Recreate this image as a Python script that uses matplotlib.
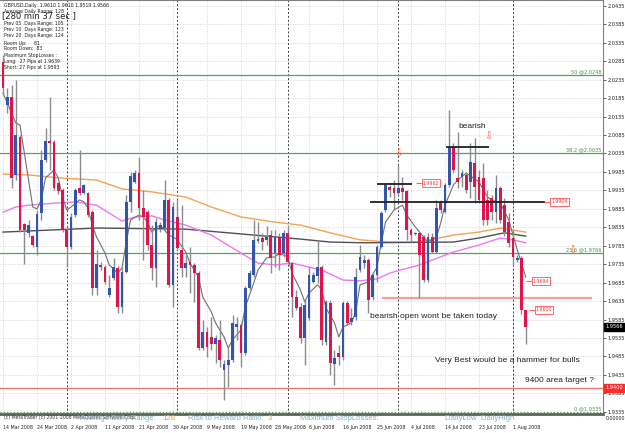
import matplotlib.pyplot as plt
import numpy as np

# GBPUSD daily candles (bar 0 = 14 Mar 2008, Sunday bars included)
opens = [2.0283, 2.0166, 2.0188, 1.9977, 2.0080, 1.9844, 1.9820, 1.9811, 1.9782, 1.9874,
         2.0017, 2.0069, 2.0066, 1.9955, 1.9936, 1.9828, 1.9782, 1.9868, 1.9942, 1.9928,
         1.9928, 1.9876, 1.9671, 1.9733, 1.9727, 1.9652, 1.9698, 1.9725, 1.9619, 1.9714,
         1.9904, 1.9958, 1.9982, 1.9887, 1.9876, 1.9787, 1.9725, 1.9830, 1.9833, 1.9909,
         1.9679, 1.9863, 1.9774, 1.9725, 1.9741, 1.9733, 1.9711, 1.9508, 1.9551, 1.9538,
         1.9519, 1.9530, 1.9448, 1.9462, 1.9475, 1.9565, 1.9570, 1.9494, 1.9671, 1.9706,
         1.9798, 1.9806, 1.9801, 1.9814, 1.9765, 1.9809, 1.9765, 1.9820, 1.9738, 1.9646,
         1.9619, 1.9535, 1.9589, 1.9687, 1.9703, 1.9727, 1.9524, 1.9630, 1.9465, 1.9494,
         1.9484, 1.9630, 1.9578, 1.9592, 1.9719, 1.9738, 1.9747, 1.9646, 1.9706, 1.9782,
         1.9882, 1.9944, 1.9942, 1.9928, 1.9942, 1.9933, 1.9828, 1.9820, 1.9820, 1.9809,
         1.9692, 1.9809, 1.9768, 1.9904, 1.9876, 1.9950, 2.0053, 1.9969, 1.9971, 1.9977,
         1.9958, 2.0009, 1.9971, 1.9969, 1.9909, 1.9914, 1.9876, 1.9942, 1.9895, 1.9849,
         1.9806, 1.9747, 1.9752, 1.9610]
highs = [2.0302, 2.0213, 2.0221, 2.0234, 2.0085, 1.9847, 1.9855, 1.9814, 1.9882, 2.0045,
         2.0104, 2.0188, 2.0072, 1.9958, 1.9942, 1.9833, 1.9874, 1.9942, 2.0045, 1.9952,
         1.9931, 1.9882, 1.9774, 1.9741, 1.9733, 1.9706, 1.9752, 1.9730, 1.9727, 1.9923,
         1.9985, 1.9990, 2.0026, 1.9936, 1.9882, 1.9841, 1.9860, 1.9849, 1.9963, 1.9914,
         1.9904, 1.9909, 1.9895, 1.9760, 1.9782, 1.9738, 1.9717, 1.9584, 1.9565, 1.9592,
         1.9543, 1.9584, 1.9475, 1.9511, 1.9597, 1.9592, 1.9576, 1.9676, 1.9719, 1.9855,
         1.9849, 1.9820, 1.9839, 1.9828, 1.9828, 1.9820, 1.9828, 1.9841, 1.9741, 1.9665,
         1.9630, 1.9638, 1.9727, 1.9714, 1.9801, 1.9733, 1.9638, 1.9638, 1.9503, 1.9516,
         1.9635, 1.9635, 1.9616, 1.9725, 1.9787, 1.9760, 1.9752, 1.9714, 1.9787, 1.9879,
         1.9955, 1.9950, 1.9963, 2.0004, 1.9971, 1.9936, 1.9833, 1.9822, 1.9822, 1.9814,
         1.9820, 1.9820, 1.9909, 1.9909, 1.9955, 2.0153, 2.0064, 2.0093, 1.9990, 1.9985,
         2.0064, 2.0077, 1.9990, 2.0009, 1.9936, 1.9923, 1.9977, 1.9947, 1.9914, 1.9874,
         1.9828, 1.9760, 1.9757, 1.9610]
lows = [2.0194, 2.0145, 1.9942, 1.9963, 1.9822, 1.9736, 1.9809, 1.9782, 1.9760, 1.9855,
        2.0012, 1.9990, 1.9936, 1.9925, 1.9822, 1.9727, 1.9776, 1.9863, 1.9923, 1.9925,
        1.9863, 1.9652, 1.9652, 1.9719, 1.9681, 1.9646, 1.9692, 1.9603, 1.9603, 1.9711,
        1.9876, 1.9955, 1.9855, 1.9747, 1.9774, 1.9692, 1.9673, 1.9822, 1.9828, 1.9673,
        1.9619, 1.9774, 1.9700, 1.9700, 1.9657, 1.9633, 1.9503, 1.9503, 1.9484, 1.9503,
        1.9467, 1.9456, 1.9367, 1.9402, 1.9470, 1.9530, 1.9456, 1.9489, 1.9665, 1.9700,
        1.9793, 1.9774, 1.9787, 1.9711, 1.9727, 1.9719, 1.9755, 1.9738, 1.9592, 1.9611,
        1.9521, 1.9462, 1.9584, 1.9684, 1.9684, 1.9516, 1.9516, 1.9435, 1.9408, 1.9462,
        1.9475, 1.9570, 1.9570, 1.9584, 1.9714, 1.9725, 1.9603, 1.9638, 1.9687, 1.9779,
        1.9876, 1.9917, 1.9882, 1.9923, 1.9909, 1.9801, 1.9795, 1.9814, 1.9643, 1.9687,
        1.9687, 1.9765, 1.9765, 1.9874, 1.9874, 1.9944, 1.9982, 1.9942, 1.9944, 1.9928,
        1.9914, 1.9901, 1.9901, 1.9841, 1.9841, 1.9855, 1.9847, 1.9847, 1.9811, 1.9782,
        1.9733, 1.9741, 1.9600, 1.9519]
closes = [2.0213, 2.0188, 1.9969, 2.0085, 1.9828, 1.9828, 1.9841, 1.9787, 1.9871, 2.0017,
          2.0069, 2.0064, 1.9942, 1.9933, 1.9828, 1.9782, 1.9863, 1.9936, 1.9928, 1.9950,
          1.9868, 1.9671, 1.9736, 1.9727, 1.9687, 1.9671, 1.9727, 1.9619, 1.9714, 1.9904,
          1.9974, 1.9982, 1.9887, 1.9863, 1.9787, 1.9725, 1.9849, 1.9841, 1.9909, 1.9679,
          1.9890, 1.9779, 1.9725, 1.9738, 1.9733, 1.9711, 1.9508, 1.9551, 1.9511, 1.9519,
          1.9535, 1.9475, 1.9465, 1.9475, 1.9576, 1.9573, 1.9494, 1.9671, 1.9711, 1.9801,
          1.9803, 1.9795, 1.9809, 1.9752, 1.9809, 1.9760, 1.9820, 1.9741, 1.9646, 1.9616,
          1.9535, 1.9625, 1.9706, 1.9706, 1.9727, 1.9530, 1.9633, 1.9467, 1.9481, 1.9484,
          1.9630, 1.9576, 1.9589, 1.9700, 1.9755, 1.9747, 1.9638, 1.9706, 1.9782, 1.9874,
          1.9950, 1.9936, 1.9928, 1.9942, 1.9931, 1.9828, 1.9814, 1.9817, 1.9760, 1.9692,
          1.9809, 1.9768, 1.9887, 1.9882, 1.9950, 2.0053, 1.9990, 1.9958, 1.9982, 1.9936,
          2.0012, 1.9944, 1.9909, 1.9855, 1.9855, 1.9876, 1.9942, 1.9855, 1.9822, 1.9793,
          1.9755, 1.9752, 1.9611, 1.9566]

# moving averages as (bar, price)
ma_orange = [(0, 1.9979), (6, 1.9977), (13, 1.9969), (22, 1.9963), (28, 1.9939), (35, 1.9931),
             (43, 1.9917), (49, 1.9890), (56, 1.9863), (64, 1.9849), (70, 1.9841), (77, 1.9820),
             (84, 1.9801), (91, 1.9795), (98, 1.9795), (106, 1.9814), (112, 1.9822), (117, 1.9833),
             (123, 1.9822)]
ma_black = [(0, 1.9822), (22, 1.9833), (43, 1.9830), (53, 1.9820), (64, 1.9809), (70, 1.9803),
            (77, 1.9795), (85, 1.9793), (106, 1.9795), (112, 1.9806), (118, 1.9820), (123, 1.9811)]
ma_magenta = [(0, 1.9876), (3, 1.9890), (6, 1.9895), (13, 1.9901), (17, 1.9904), (22, 1.9895),
              (28, 1.9852), (31, 1.9863), (35, 1.9866), (38, 1.9855), (43, 1.9841), (49, 1.9814),
              (56, 1.9765), (60, 1.9738), (64, 1.9733), (68, 1.9738), (75, 1.9719), (80, 1.9692),
              (84, 1.9690), (88, 1.9695), (91, 1.9711), (98, 1.9733), (106, 1.9768), (112, 1.9787),
              (117, 1.9806), (120, 1.9801), (123, 1.9793)]
ma_gray = [(0, 2.0199), (3, 2.0118), (4, 2.0112), (7, 1.9890), (8, 1.9885), (9, 1.9909), (10, 1.9969),
           (12, 1.9990), (13, 1.9969), (14, 1.9917), (15, 1.9882), (16, 1.9890), (18, 1.9909),
           (19, 1.9904), (20, 1.9887), (21, 1.9841), (22, 1.9809), (24, 1.9765), (25, 1.9733),
           (27, 1.9711), (28, 1.9725), (29, 1.9795), (30, 1.9855), (32, 1.9868), (33, 1.9863),
           (34, 1.9849), (35, 1.9822), (36, 1.9833), (37, 1.9841), (39, 1.9814), (40, 1.9809),
           (41, 1.9801), (43, 1.9768), (44, 1.9738), (46, 1.9700), (47, 1.9646), (49, 1.9606),
           (50, 1.9576), (52, 1.9538), (53, 1.9508), (54, 1.9530), (56, 1.9557), (57, 1.9619),
           (59, 1.9684), (60, 1.9719), (62, 1.9752), (64, 1.9755), (65, 1.9765), (67, 1.9755),
           (68, 1.9711), (70, 1.9665), (71, 1.9633), (72, 1.9657), (74, 1.9679), (75, 1.9665),
           (76, 1.9616), (78, 1.9576), (79, 1.9538), (80, 1.9565), (82, 1.9576), (83, 1.9606),
           (84, 1.9679), (86, 1.9687), (88, 1.9727), (89, 1.9793), (90, 1.9849), (92, 1.9882),
           (94, 1.9895), (95, 1.9868), (97, 1.9836), (99, 1.9809), (100, 1.9795), (102, 1.9809),
           (103, 1.9847), (104, 1.9895), (106, 1.9950), (107, 1.9963), (109, 1.9982), (112, 1.9958),
           (114, 1.9917), (115, 1.9909), (117, 1.9901), (119, 1.9855), (121, 1.9774), (123, 1.9700)]

date_bars = [0, 8, 16, 24, 32, 40, 48, 56, 64, 72, 80, 88, 96, 104, 112, 120]
date_labels = ["14 Mar 2008", "24 Mar 2008", "2 Apr 2008", "11 Apr 2008", "21 Apr 2008",
               "30 Apr 2008", "9 May 2008", "19 May 2008", "28 May 2008", "6 Jun 2008",
               "16 Jun 2008", "25 Jun 2008", "4 Jul 2008", "14 Jul 2008", "23 Jul 2008", "1 Aug 2008"]
month_starts = [15, 41, 67, 93, 120]
price_ticks = [round(1.9335 + 0.005 * k, 4) for k in range(23)]

fib_names = ["50", "38.2", "23.6", "0"]
fib_levels = [2.0248, 2.0035, 1.9766, 1.9335]

# hand drawn trend lines: (price, from bar, to bar)
black_lines = [(1.9952, 88.0, 96.3), (1.9904, 86.3, 127.5), (2.0052, 104.3, 114.3)]
price_boxes = [("1.9962", 100.7, 1.9955), ("1.9904", 131.0, 1.9904),
               ("1.9694", 126.6, 1.9689), ("1.9610", 127.3, 1.9611)]
arrows = [(93.0, 2.0036), (114.1, 2.0082), (133.9, 1.9772)]

W, H = 625, 433
fig = plt.figure(figsize=(W / 100, H / 100), dpi=100)
fig.patch.set_facecolor("white")
ax = fig.add_axes([0, 19 / H, 603 / W, 414 / H])

def at(x, y):  # pixel position -> figure fraction
    return x / W, 1 - y / H

ax.set_xlim(-0.71, 141.18)
ax.set_ylim(1.9329, 2.0451)

# grid
for p in price_ticks:
    ax.axhline(p, color="#c8c8c8", lw=0.6, ls=(0, (1, 2)), zorder=0)
for b in date_bars:
    ax.axvline(b, color="#c8c8c8", lw=0.6, ls=(0, (1, 2)), zorder=0)
for b in month_starts:
    ax.axvline(b, color="#404040", lw=0.7, ls=(0, (2, 2)), zorder=0.5)

# fibo levels
for name, lev in zip(fib_names, fib_levels):
    ax.axhline(lev, color="#5aa05a", lw=0.9, ls=":" if name == "0" else "-", zorder=1)
    ax.text(140.9, lev + 0.0002, f"{name} @{lev:.4f}", ha="right", va="bottom",
            fontsize=3.6, color="#4a904a", zorder=5)

ax.axhline(1.9400, color="#f07878", lw=1.0, zorder=1)
ax.hlines(1.9643, 89.2, 138.6, color="#f4a0a0", lw=1.6, zorder=1)

# moving averages
for pts, col, lw in [(ma_orange, "#f5a350", 1.0), (ma_black, "#505050", 1.0),
                     (ma_magenta, "#ee78ee", 1.0), (ma_gray, "#707070", 0.8)]:
    xs, ys = zip(*pts)
    ax.plot(xs, ys, color=col, lw=lw, zorder=2)

# candles
bars = np.arange(len(opens))
o, h, l, c = map(np.array, (opens, highs, lows, closes))
up = c >= o
ax.vlines(bars, l, h, color="#8c8c8c", lw=1.0, zorder=3)
body_lo = np.minimum(o, c)
body_h = np.maximum(np.abs(c - o), 0.00025)
ax.bar(bars[up], body_h[up], bottom=body_lo[up], width=0.65, color="#3355aa", zorder=4)
ax.bar(bars[~up], body_h[~up], bottom=body_lo[~up], width=0.65, color="#e0144c", zorder=4)

for p, x0, x1 in black_lines:
    ax.hlines(p, x0, x1, color="#202020", lw=1.3, zorder=5)

for txt, bx, p in price_boxes:
    ax.hlines(p, bx - 3.6, bx - 2.2, color="#ff6060", lw=0.8, zorder=5)
    ax.text(bx, p, txt, ha="center", va="center", fontsize=3.4, color="#ff3030", zorder=6,
            bbox=dict(boxstyle="square,pad=0.25", fc="white", ec="#ff5050", lw=0.6))

for bx, p in arrows:
    ax.text(bx, p, "\u21e9", ha="center", va="center", fontsize=7, color="#ff5a3c", zorder=6)

# axes frame and scales
ax.spines["left"].set_visible(False)
ax.spines["right"].set_color("#808080")
ax.spines["top"].set_color("#808080")
ax.spines["bottom"].set_color("#606060")
ax.spines["bottom"].set_linewidth(2)
ax.yaxis.tick_right()
ax.set_yticks(price_ticks)
ax.set_yticklabels([f"{p:.4f}" for p in price_ticks])
ax.tick_params(axis="y", labelsize=3.6, length=2, width=0.5, pad=1.5, colors="#202020")
ax.set_xticks(date_bars)
ax.set_xticklabels(date_labels, ha="left")
ax.tick_params(axis="x", labelsize=3.4, length=0, pad=8, colors="#202020")

ax.annotate("1.9566", xy=(1.0, 1.9566), xycoords=("axes fraction", "data"), xytext=(1.5, 0),
            textcoords="offset points", ha="left", va="center", fontsize=3.6, color="white",
            bbox=dict(boxstyle="square,pad=0.3", fc="black", ec="black"), annotation_clip=False)
ax.annotate("1.9400", xy=(1.0, 1.9400), xycoords=("axes fraction", "data"), xytext=(1.5, 0),
            textcoords="offset points", ha="left", va="center", fontsize=3.6, color="white",
            bbox=dict(boxstyle="square,pad=0.3", fc="#ff2a2a", ec="#ff2a2a"), annotation_clip=False)

# info block top left
info = [(5, "GBPUSD,Daily  1.9610 1.9610 1.9519 1.9566"),
        (11, "Average Daily Range: 128"),
        (24, "Prev 05  Days Range: 105"),
        (30, "Prev 10  Days Range: 123"),
        (36, "Prev 20  Days Range: 124"),
        (43, "Room Up:     81"),
        (49, "Room Down:  83"),
        (55, "Maximum StopLosses :"),
        (62, "Long:  27 Pips at 1.9639"),
        (68, "Short: 27 Pips at 1.9593")]
for y, s in info:
    fig.text(*at(4, y), s, fontsize=3.3, color="#202020", va="center")
fig.text(*at(2, 16), "[280 min 37 sec ]", fontsize=6, color="#202020", va="center")

# notes
note = dict(fontsize=6, color="#202020", va="center", family="Liberation Sans")
fig.text(*at(458, 126), "bearish", **note)
fig.text(*at(370, 316), "bearish open wont be taken today", **note)
fig.text(*at(435, 360), "Very Best would be a hammer for bulls", **note)
fig.text(*at(525, 381), "9400 area target ?", **note)

# bottom info row
fig.text(*at(4, 418), "(c) MetaTrader (c) 2001-2008 MetaQuotes Software Corp.", fontsize=3.3,
         color="#303030", va="center")
row = dict(fontsize=5.6, va="center", family="Liberation Sans")
fig.text(*at(156, 419), "Average Daily Range:", ha="right", color="#86b4c6", **row)
fig.text(*at(162, 419), "128", color="#f5a623", **row)
fig.text(*at(188, 419), "Risk to Reward Ratio:", color="#86b4c6", **row)
fig.text(*at(268, 419), "3", color="#f5a623", **row)
fig.text(*at(300, 419), "Maximum StopLosses:", color="#86b4c6", **row)
fig.text(*at(445, 419), "DailyLow  DailyHigh", color="#86b4c6", **row)
fig.text(*at(606, 418), "0.00000", fontsize=3.4, color="#202020", va="center")

fig.savefig("out.png", dpi=100)
